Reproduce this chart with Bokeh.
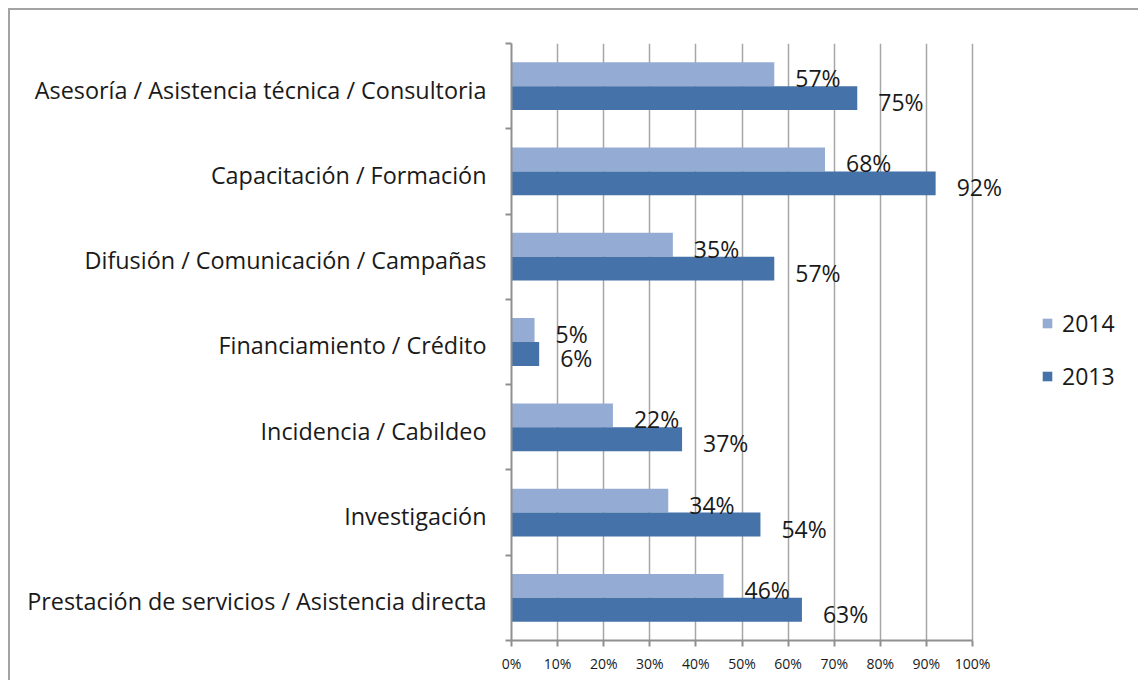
from bokeh.plotting import figure
from bokeh.models import (Range1d, FixedTicker, NumeralTickFormatter, Legend, LegendItem,
                          ColumnDataSource)
from bokeh.core.properties import value
from bokeh.embed import file_html
from bokeh.resources import INLINE

# ---- data (bottom to top) ----
categories = [
    "Prestación de servicios / Asistencia directa",
    "Investigación",
    "Incidencia / Cabildeo",
    "Financiamiento / Crédito",
    "Difusión / Comunicación / Campañas",
    "Capacitación / Formación",
    "Asesoría / Asistencia técnica / Consultoria",
]
values_2014 = [0.46, 0.34, 0.22, 0.05, 0.35, 0.68, 0.57]
values_2013 = [0.63, 0.54, 0.37, 0.06, 0.57, 0.92, 0.75]
series_names = ["2014", "2013"]
x_ticks = [0.0, 0.1, 0.2, 0.3, 0.4, 0.5, 0.6, 0.7, 0.8, 0.9, 1.0]

LIGHT = "#94abd3"
DARK = "#4472a9"
FONT = "Open Sans"
TEXT = "#1a1a1a"
AXIS = "#8f8f8f"
BAR_H = 0.28
X_END = 1.3644   # frame extends past 100% so labels/legend are not clipped

n = len(categories)
centers = [i + 0.5 for i in range(n)]
label_pos = [c - 0.04 for c in centers]
bounds = [float(i) for i in range(n + 1)]

src14 = ColumnDataSource(dict(
    y=[c + BAR_H / 2 for c in centers], right=values_2014,
    label=[f"{round(v*100)}%" for v in values_2014]))
src13 = ColumnDataSource(dict(
    y=[c - BAR_H / 2 for c in centers], right=values_2013,
    label=[f"{round(v*100)}%" for v in values_2013]))

p = figure(width=1130, height=672, output_backend="svg", toolbar_location=None,
           x_range=Range1d(0, X_END), y_range=Range1d(0, n),
           min_border_left=501, min_border_right=0,
           min_border_top=33, min_border_bottom=42)
p.styles = {"margin-left": "8px", "margin-top": "8px",
            "border-left": "2px solid #a3a3a3", "border-top": "2px solid #a3a3a3"}
p.outline_line_color = None
p.background_fill_color = "white"
p.border_fill_color = "white"

r14 = p.hbar(y="y", left=0, right="right", height=BAR_H, source=src14,
             fill_color=LIGHT, line_color=None)
r13 = p.hbar(y="y", left=0, right="right", height=BAR_H, source=src13,
             fill_color=DARK, line_color=None)

for src in (src14, src13):
    p.text(x="right", y="y", text="label", source=src, x_offset=21, y_offset=4,
           text_font=value(FONT), text_font_size="23px", text_color=TEXT,
           text_baseline="middle", text_align="left")

# x axis
p.xaxis.ticker = FixedTicker(ticks=x_ticks)
p.xaxis.bounds = (0, 1)
p.xaxis.formatter = NumeralTickFormatter(format="0%")
p.xaxis.major_label_text_font = FONT
p.xaxis.major_label_text_font_size = "14px"
p.xaxis.major_label_text_color = TEXT
p.xaxis.major_label_standoff = 7
p.xaxis.axis_line_color = AXIS
p.xaxis.axis_line_width = 2
p.xaxis.major_tick_line_color = AXIS
p.xaxis.major_tick_line_width = 2
p.xaxis.major_tick_out = 6
p.xaxis.major_tick_in = 0
p.xaxis.minor_tick_line_color = None

# y axis
p.yaxis.ticker = FixedTicker(ticks=label_pos, minor_ticks=bounds)
p.yaxis.major_label_overrides = {c: name for c, name in zip(label_pos, categories)}
p.yaxis.major_label_text_font = FONT
p.yaxis.major_label_text_font_size = "23.4px"
p.yaxis.major_label_text_color = TEXT
p.yaxis.major_label_standoff = 19
p.yaxis.major_tick_line_color = None
p.yaxis.minor_tick_line_color = AXIS
p.yaxis.minor_tick_line_width = 2
p.yaxis.minor_tick_out = 6
p.yaxis.minor_tick_in = 0
p.yaxis.axis_line_color = AXIS
p.yaxis.axis_line_width = 2

# grid
p.xgrid.ticker = FixedTicker(ticks=x_ticks)
p.xgrid.grid_line_color = "#a6a6a6"
p.xgrid.grid_line_width = 1.5
p.ygrid.grid_line_color = None

legend = Legend(items=[LegendItem(label=series_names[0], renderers=[r14]),
                       LegendItem(label=series_names[1], renderers=[r13])],
                location=(530, 248), orientation="vertical")
legend.border_line_color = None
legend.background_fill_alpha = 0
legend.glyph_width = 12
legend.glyph_height = 12
legend.label_standoff = 9
legend.spacing = 21
legend.padding = 0
legend.margin = 0
legend.label_text_font = FONT
legend.label_text_font_size = "23px"
legend.label_text_color = TEXT
p.add_layout(legend, "center")

open("out.html", "w").write(file_html(p, INLINE))
